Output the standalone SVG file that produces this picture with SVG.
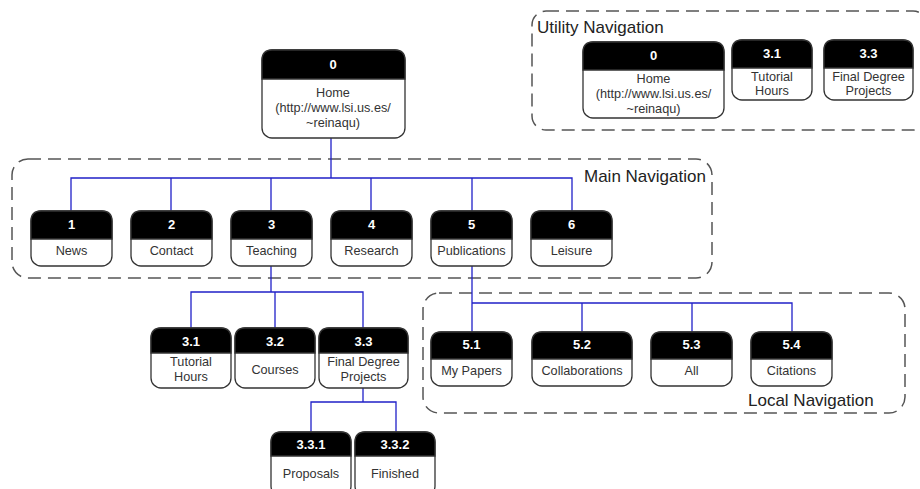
<svg xmlns="http://www.w3.org/2000/svg" width="920" height="489" viewBox="0 0 920 489">
<style>
.grp{fill:none;stroke:#555;stroke-width:1.5;stroke-dasharray:13 7}
.gt{font-family:"Liberation Sans",Arial,sans-serif;font-size:17px;fill:#222}
.box{fill:#fff;stroke:#333;stroke-width:1.3}
.hd{fill:#000;stroke:#333;stroke-width:1.3}
.num{font-family:"Liberation Sans",Arial,sans-serif;font-size:13px;font-weight:bold;fill:#fff;text-anchor:middle}
.lb{font-family:"Liberation Sans",Arial,sans-serif;font-size:12.7px;fill:#333;text-anchor:middle}
.c{fill:none;stroke:#2020c8;stroke-width:1.3}
</style>
<rect width="920" height="489" fill="#fff"/>
<g id="groups">
<rect class="grp" x="532" y="11" width="395" height="119" rx="14"/>
<text class="gt" x="537" y="33">Utility Navigation</text>
<rect class="grp" x="12" y="159" width="700" height="119" rx="16"/>
<text class="gt" x="584" y="182">Main Navigation</text>
<rect class="grp" x="423" y="293" width="482" height="120" rx="16"/>
<text class="gt" x="748" y="406">Local Navigation</text>
</g>
<g id="connectors">
<path class="c" d="M331 138V178M71 211V178H572V211M171 178V211M271 178V211M371 178V211M472 178V211"/>
<path class="c" d="M271 266V292H363V328M191 328V292H275V328"/>
<path class="c" d="M363 388V402H396V432M311 432V402H363"/>
<path class="c" d="M472 266V332M472 303H792V332M582 303V332M692 303V332"/>
</g>
<g id="n0">
<rect class="box" x="262" y="50" width="143" height="88" rx="10"/>
<path class="hd" d="M262 79V60Q262 50 272 50H395Q405 50 405 60V79Z"/>
<text class="num" x="333" y="69">0</text>
<text class="lb" x="333" y="97">Home</text>
<text class="lb" x="333" y="112">(http://www.lsi.us.es/</text>
<text class="lb" x="333" y="127">~reinaqu)</text>
</g>
<g id="n1">
<rect class="box" x="31" y="211" width="81" height="55" rx="10"/>
<path class="hd" d="M31 239V221Q31 211 41 211H102Q112 211 112 221V239Z"/>
<text class="num" x="71.5" y="229">1</text>
<text class="lb" x="71.5" y="255">News</text>
</g>
<g id="n2">
<rect class="box" x="131" y="211" width="81" height="55" rx="10"/>
<path class="hd" d="M131 239V221Q131 211 141 211H202Q212 211 212 221V239Z"/>
<text class="num" x="171.5" y="229">2</text>
<text class="lb" x="171.5" y="255">Contact</text>
</g>
<g id="n3">
<rect class="box" x="231" y="211" width="81" height="55" rx="10"/>
<path class="hd" d="M231 239V221Q231 211 241 211H302Q312 211 312 221V239Z"/>
<text class="num" x="271.5" y="229">3</text>
<text class="lb" x="271.5" y="255">Teaching</text>
</g>
<g id="n4">
<rect class="box" x="331" y="211" width="81" height="55" rx="10"/>
<path class="hd" d="M331 239V221Q331 211 341 211H402Q412 211 412 221V239Z"/>
<text class="num" x="371.5" y="229">4</text>
<text class="lb" x="371.5" y="255">Research</text>
</g>
<g id="n5">
<rect class="box" x="431" y="211" width="81" height="55" rx="10"/>
<path class="hd" d="M431 239V221Q431 211 441 211H502Q512 211 512 221V239Z"/>
<text class="num" x="471.5" y="229">5</text>
<text class="lb" x="471.5" y="255">Publications</text>
</g>
<g id="n6">
<rect class="box" x="531" y="211" width="81" height="55" rx="10"/>
<path class="hd" d="M531 239V221Q531 211 541 211H602Q612 211 612 221V239Z"/>
<text class="num" x="571.5" y="229">6</text>
<text class="lb" x="571.5" y="255">Leisure</text>
</g>
<g id="n3_1">
<rect class="box" x="151" y="328" width="80" height="60" rx="10"/>
<path class="hd" d="M151 353V338Q151 328 161 328H221Q231 328 231 338V353Z"/>
<text class="num" x="191" y="346">3.1</text>
<text class="lb" x="191" y="366">Tutorial</text>
<text class="lb" x="191" y="381">Hours</text>
</g>
<g id="n3_2">
<rect class="box" x="235" y="328" width="80" height="60" rx="10"/>
<path class="hd" d="M235 353V338Q235 328 245 328H305Q315 328 315 338V353Z"/>
<text class="num" x="275" y="346">3.2</text>
<text class="lb" x="275" y="374">Courses</text>
</g>
<g id="n3_3">
<rect class="box" x="319" y="328" width="89" height="60" rx="10"/>
<path class="hd" d="M319 353V338Q319 328 329 328H398Q408 328 408 338V353Z"/>
<text class="num" x="363.5" y="346">3.3</text>
<text class="lb" x="363.5" y="366">Final Degree</text>
<text class="lb" x="363.5" y="381">Projects</text>
</g>
<g id="n3_3_1">
<rect class="box" x="271" y="432" width="80" height="64" rx="10"/>
<path class="hd" d="M271 456V442Q271 432 281 432H341Q351 432 351 442V456Z"/>
<text class="num" x="311" y="449">3.3.1</text>
<text class="lb" x="311" y="478">Proposals</text>
</g>
<g id="n3_3_2">
<rect class="box" x="355" y="432" width="80" height="64" rx="10"/>
<path class="hd" d="M355 456V442Q355 432 365 432H425Q435 432 435 442V456Z"/>
<text class="num" x="395" y="449">3.3.2</text>
<text class="lb" x="395" y="478">Finished</text>
</g>
<g id="n5_1">
<rect class="box" x="431" y="332" width="81" height="54" rx="10"/>
<path class="hd" d="M431 359V342Q431 332 441 332H502Q512 332 512 342V359Z"/>
<text class="num" x="471.5" y="349">5.1</text>
<text class="lb" x="471.5" y="375">My Papers</text>
</g>
<g id="n5_2">
<rect class="box" x="532" y="332" width="100" height="54" rx="10"/>
<path class="hd" d="M532 359V342Q532 332 542 332H622Q632 332 632 342V359Z"/>
<text class="num" x="582" y="349">5.2</text>
<text class="lb" x="582" y="375">Collaborations</text>
</g>
<g id="n5_3">
<rect class="box" x="651" y="332" width="81" height="54" rx="10"/>
<path class="hd" d="M651 359V342Q651 332 661 332H722Q732 332 732 342V359Z"/>
<text class="num" x="691.5" y="349">5.3</text>
<text class="lb" x="691.5" y="375">All</text>
</g>
<g id="n5_4">
<rect class="box" x="751" y="332" width="81" height="54" rx="10"/>
<path class="hd" d="M751 359V342Q751 332 761 332H822Q832 332 832 342V359Z"/>
<text class="num" x="791.5" y="349">5.4</text>
<text class="lb" x="791.5" y="375">Citations</text>
</g>
<g id="u0">
<rect class="box" x="583" y="42" width="141" height="76" rx="10"/>
<path class="hd" d="M583 70V52Q583 42 593 42H714Q724 42 724 52V70Z"/>
<text class="num" x="653.5" y="60">0</text>
<text class="lb" x="653.5" y="83">Home</text>
<text class="lb" x="653.5" y="98">(http://www.lsi.us.es/</text>
<text class="lb" x="653.5" y="113">~reinaqu)</text>
</g>
<g id="u3_1">
<rect class="box" x="732" y="40" width="80" height="60" rx="10"/>
<path class="hd" d="M732 68V50Q732 40 742 40H802Q812 40 812 50V68Z"/>
<text class="num" x="772" y="58">3.1</text>
<text class="lb" x="772" y="81">Tutorial</text>
<text class="lb" x="772" y="95">Hours</text>
</g>
<g id="u3_3">
<rect class="box" x="824" y="40" width="89" height="60" rx="10"/>
<path class="hd" d="M824 68V50Q824 40 834 40H903Q913 40 913 50V68Z"/>
<text class="num" x="868.5" y="58">3.3</text>
<text class="lb" x="868.5" y="81">Final Degree</text>
<text class="lb" x="868.5" y="95">Projects</text>
</g>
</svg>
